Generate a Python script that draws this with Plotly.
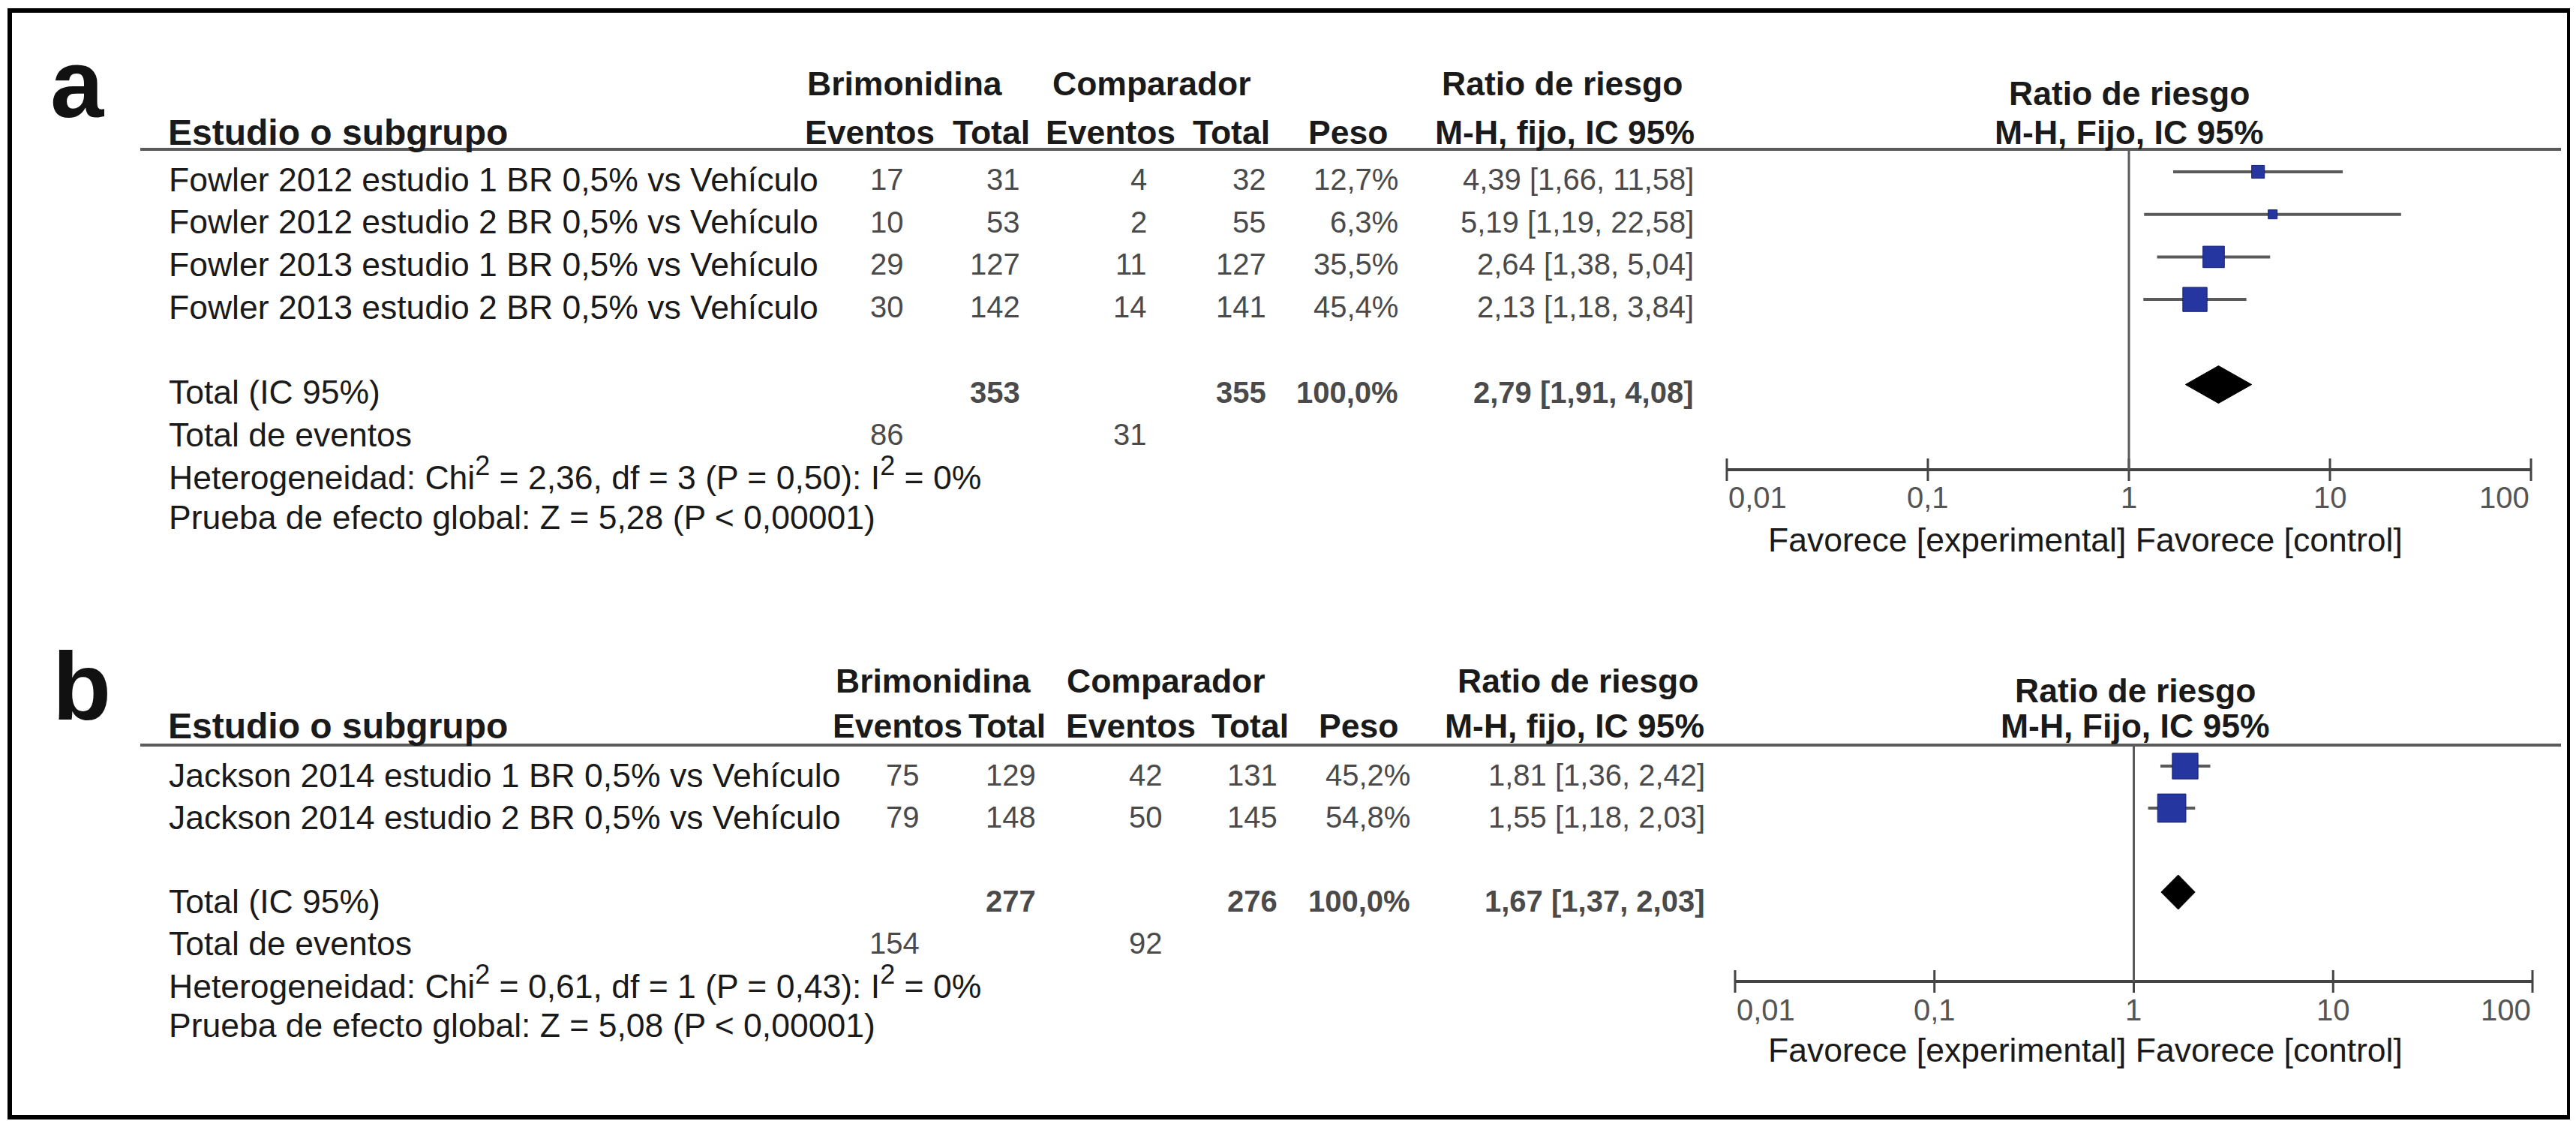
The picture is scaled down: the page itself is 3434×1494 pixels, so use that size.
import math
import plotly.graph_objects as go

W, H = 3434, 1494
OFF = 8  # page body margin used by the browser page
FONT = "Liberation Sans, Arial, Helvetica, sans-serif"

# ---------------- data: panel a ----------------
studies_a = [
    "Fowler 2012 estudio 1 BR 0,5% vs Vehículo",
    "Fowler 2012 estudio 2 BR 0,5% vs Vehículo",
    "Fowler 2013 estudio 1 BR 0,5% vs Vehículo",
    "Fowler 2013 estudio 2 BR 0,5% vs Vehículo",
]
brim_ev_a = [17, 10, 29, 30]
brim_tot_a = [31, 53, 127, 142]
comp_ev_a = [4, 2, 11, 14]
comp_tot_a = [32, 55, 127, 141]
weight_a = [12.7, 6.3, 35.5, 45.4]
rr_a = [4.39, 5.19, 2.64, 2.13]
lo_a = [1.66, 1.19, 1.38, 1.18]
hi_a = [11.58, 22.58, 5.04, 3.84]
total_a = dict(brim_tot=353, comp_tot=355, weight=100.0, rr=2.79, lo=1.91, hi=4.08,
               brim_ev=86, comp_ev=31, chi2=2.36, df=3, p=0.50, i2=0, z=5.28)

# ---------------- data: panel b ----------------
studies_b = [
    "Jackson 2014 estudio 1 BR 0,5% vs Vehículo",
    "Jackson 2014 estudio 2 BR 0,5% vs Vehículo",
]
brim_ev_b = [75, 79]
brim_tot_b = [129, 148]
comp_ev_b = [42, 50]
comp_tot_b = [131, 145]
weight_b = [45.2, 54.8]
rr_b = [1.81, 1.55]
lo_b = [1.36, 1.18]
hi_b = [2.42, 2.03]
total_b = dict(brim_tot=277, comp_tot=276, weight=100.0, rr=1.67, lo=1.37, hi=2.03,
               brim_ev=154, comp_ev=92, chi2=0.61, df=1, p=0.43, i2=0, z=5.08)

tick_vals = [0.01, 0.1, 1, 10, 100]
tick_text = ["0,01", "0,1", "1", "10", "100"]

# ---------------- layout (pixel) settings ----------------
lay_a = dict(letter="a", letter_xy=(65, 112), hdr1_y=112, fhdr1_y=125, hdr2_y=177, line_y=199,
             row0=229, step=56.7, text_dy=10, axis_y=626, xlo=2302, xhi=3374, fav_x=2780,
             fav_y=720, tl_y=663,
             cols=dict(be=1207, bt=1362, ce=1531, ct=1690, w=1866, rr=2260),
             hdr=dict(brim=1206, comp=1535, rr=2082, be=1159, bt=1321, ce=1480, ct=1641,
                      w=1797, mh=2086, forest=2838),
             msize=4.8, dia_h=25)
lay_b = dict(letter="b", letter_xy=(68, 914), hdr1_y=907, fhdr1_y=920, hdr2_y=967, line_y=993,
             row0=1021, step=56.0, text_dy=12, axis_y=1308, xlo=2313, xhi=3376, fav_x=2780,
             fav_y=1399, tl_y=1346,
             cols=dict(be=1228, bt=1383, ce=1552, ct=1705, w=1882, rr=2275),
             hdr=dict(brim=1244, comp=1554, rr=2103, be=1196, bt=1342, ce=1507, ct=1666,
                      w=1811, mh=2099, forest=2846),
             msize=5.1, dia_h=23)

TEXT_C = "#1a1a1a"
NUM_C = "#4a4a4a"
LINE_C = "#5a5a5a"
AXIS_C = "#444444"
BLUE = "#2636a0"
FS = 44.5

ann = []
shapes = []


def px(x):
    return (x - OFF) / W


def py(y):
    return 1 - (y - OFF) / H


def fmt(v, d=2):
    return f"{v:.{d}f}".replace(".", ",")


def sup(s):
    return f'<sup><span style="font-size:36px">{s}</span></sup>'


def text(x, y, s, xanchor="left", size=FS, color=TEXT_C, bold=False):
    if bold:
        s = f"<b>{s}</b>"
    ann.append(dict(x=px(x), y=py(y), xref="paper", yref="paper", text=s,
                    showarrow=False, xanchor=xanchor, yanchor="middle",
                    font=dict(size=size, color=color, family=FONT)))


fig = go.Figure()


def panel(idx, L, studies, be, bt, ce, ct, wt, rr, lo, hi, tot):
    xa = "x" if idx == 1 else f"x{idx}"
    ya = "y" if idx == 1 else f"y{idx}"
    n = len(studies)
    c = L["cols"]
    h = L["hdr"]

    def ty(i):
        return L["row0"] + L["step"] * i + L["text_dy"]

    # panel letter
    ann.append(dict(x=px(L["letter_xy"][0]), y=py(L["letter_xy"][1]), xref="paper", yref="paper",
                    text=f"<b>{L['letter']}</b>", showarrow=False, xanchor="left", yanchor="middle",
                    font=dict(size=128, color="#111111", family=FONT)))
    # headers
    text(h["brim"], L["hdr1_y"], "Brimonidina", "center", bold=True)
    text(h["comp"], L["hdr1_y"], "Comparador", "center", bold=True)
    text(h["rr"], L["hdr1_y"], "Ratio de riesgo", "center", bold=True)
    text(h["forest"], L["fhdr1_y"], "Ratio de riesgo", "center", bold=True)
    text(222, L["hdr2_y"], "Estudio o subgrupo", "left", size=48, bold=True)
    text(h["be"], L["hdr2_y"], "Eventos", "center", bold=True)
    text(h["bt"], L["hdr2_y"], "Total", "center", bold=True)
    text(h["ce"], L["hdr2_y"], "Eventos", "center", bold=True)
    text(h["ct"], L["hdr2_y"], "Total", "center", bold=True)
    text(h["w"], L["hdr2_y"], "Peso", "center", bold=True)
    text(h["mh"], L["hdr2_y"], "M-H, fijo, IC 95%", "center", bold=True)
    text(h["forest"], L["hdr2_y"], "M-H, Fijo, IC 95%", "center", bold=True)
    shapes.append(dict(type="line", xref="paper", yref="paper", x0=px(187), x1=px(3414),
                       y0=py(L["line_y"]), y1=py(L["line_y"]), line=dict(color=LINE_C, width=4)))

    # study rows
    for i in range(n):
        y = ty(i)
        text(223, y, studies[i], "left")
        text(c["be"], y, str(be[i]), "right", 40, NUM_C)
        text(c["bt"], y, str(bt[i]), "right", 40, NUM_C)
        text(c["ce"], y, str(ce[i]), "right", 40, NUM_C)
        text(c["ct"], y, str(ct[i]), "right", 40, NUM_C)
        text(c["w"], y, fmt(wt[i], 1) + "%", "right", 40, NUM_C)
        text(c["rr"], y, f"{fmt(rr[i])} [{fmt(lo[i])}, {fmt(hi[i])}]", "right", 40, NUM_C)

    ti = n + 1
    text(223, ty(ti), "Total (IC 95%)", "left")
    text(c["bt"], ty(ti), str(tot["brim_tot"]), "right", 40, NUM_C, bold=True)
    text(c["ct"], ty(ti), str(tot["comp_tot"]), "right", 40, NUM_C, bold=True)
    text(c["w"], ty(ti), fmt(tot["weight"], 1) + "%", "right", 40, NUM_C, bold=True)
    text(c["rr"], ty(ti), f"{fmt(tot['rr'])} [{fmt(tot['lo'])}, {fmt(tot['hi'])}]", "right", 40,
         NUM_C, bold=True)
    text(223, ty(ti + 1), "Total de eventos", "left")
    text(c["be"], ty(ti + 1), str(tot["brim_ev"]), "right", 40, NUM_C)
    text(c["ce"], ty(ti + 1), str(tot["comp_ev"]), "right", 40, NUM_C)
    text(223, ty(ti + 2) - 5,
         f"Heterogeneidad: Chi{sup(2)} = {fmt(tot['chi2'])}, df = {tot['df']} "
         f"(P = {fmt(tot['p'])}): I{sup(2)} = {tot['i2']}%", "left")
    text(223, ty(ti + 3) - 3,
         f"Prueba de efecto global: Z = {fmt(tot['z'])} (P &lt; 0,00001)", "left")

    # ----- forest plot -----
    step = L["step"]
    dom_bot = L["axis_y"] + 17          # ticks reach 15 px below the axis line
    i_top = (L["line_y"] - L["row0"]) / step
    i_axis = (L["axis_y"] - L["row0"]) / step
    i_bot = (dom_bot - L["row0"]) / step
    tk = 15 / step
    dec = (L["xhi"] - L["xlo"]) / 4.0   # pixels per decade
    pad = 0.03                          # decades of padding so edge ticks are not clipped
    lmin, lmax = math.log10(tick_vals[0]), math.log10(tick_vals[-1])

    # axis line
    fig.add_trace(go.Scatter(x=[tick_vals[0], tick_vals[-1]], y=[i_axis, i_axis], mode="lines",
                             xaxis=xa, yaxis=ya, line=dict(color=AXIS_C, width=4),
                             hoverinfo="skip", showlegend=False))
    # tick marks crossing the axis line
    tx, tyv = [], []
    for t in tick_vals:
        tx += [t, t, None]
        tyv += [i_axis - tk, i_axis + tk, None]
    fig.add_trace(go.Scatter(x=tx, y=tyv, mode="lines", xaxis=xa, yaxis=ya,
                             line=dict(color=AXIS_C, width=3), hoverinfo="skip",
                             showlegend=False))
    # tick labels (placed on the log axis); end labels kept inside the axis extent
    for k, (t, s) in enumerate(zip(tick_vals, tick_text)):
        anchor = "left" if k == 0 else ("right" if k == len(tick_vals) - 1 else "center")
        ann.append(dict(x=math.log10(t), xref=xa, y=py(L["tl_y"]), yref="paper", text=s,
                        showarrow=False, xanchor=anchor, yanchor="middle",
                        font=dict(size=40, color="#555555", family=FONT)))
    # line of no effect
    fig.add_trace(go.Scatter(x=[1, 1], y=[i_top, i_axis], mode="lines", xaxis=xa, yaxis=ya,
                             line=dict(color=LINE_C, width=3), hoverinfo="skip", showlegend=False))
    # confidence intervals
    cx, cy = [], []
    for i in range(n):
        cx += [lo[i], hi[i], None]
        cy += [i, i, None]
    fig.add_trace(go.Scatter(x=cx, y=cy, mode="lines", xaxis=xa, yaxis=ya,
                             line=dict(color=LINE_C, width=4), hoverinfo="skip",
                             showlegend=False))
    # weighted squares
    fig.add_trace(go.Scatter(x=rr, y=list(range(n)), mode="markers", xaxis=xa, yaxis=ya,
                             marker=dict(symbol="square", color=BLUE, opacity=1,
                                         size=[L["msize"] * math.sqrt(w) for w in wt],
                                         line=dict(color="#18207a", width=1)),
                             hoverinfo="skip", showlegend=False))
    # pooled diamond
    dh = L["dia_h"] / step
    fig.add_trace(go.Scatter(x=[tot["lo"], tot["rr"], tot["hi"], tot["rr"], tot["lo"]],
                             y=[ti, ti - dh, ti, ti + dh, ti], mode="lines", fill="toself",
                             fillcolor="#000000", line=dict(color="#000000", width=1),
                             xaxis=xa, yaxis=ya, hoverinfo="skip", showlegend=False))

    xkey = "xaxis" if idx == 1 else f"xaxis{idx}"
    ykey = "yaxis" if idx == 1 else f"yaxis{idx}"
    fig.update_layout(**{
        xkey: dict(domain=[px(L["xlo"] - pad * dec), px(L["xhi"] + pad * dec)], type="log",
                   range=[lmin - pad, lmax + pad], anchor=ya, automargin=False,
                   showline=False, ticks="", showticklabels=False,
                   showgrid=False, zeroline=False, fixedrange=True),
        ykey: dict(domain=[py(dom_bot), py(L["line_y"])], range=[i_bot, i_top],
                   anchor=xa, visible=False, automargin=False, showgrid=False,
                   zeroline=False, fixedrange=True),
    })
    text(L["fav_x"], L["fav_y"], "Favorece [experimental] Favorece [control]", "center")


panel(1, lay_a, studies_a, brim_ev_a, brim_tot_a, comp_ev_a, comp_tot_a, weight_a, rr_a,
      lo_a, hi_a, total_a)
panel(2, lay_b, studies_b, brim_ev_b, brim_tot_b, comp_ev_b, comp_tot_b, weight_b, rr_b,
      lo_b, hi_b, total_b)

# outer frame
shapes.append(dict(type="rect", xref="paper", yref="paper", x0=px(13), x1=px(3425),
                   y0=py(1489), y1=py(14), line=dict(color="#000000", width=6)))

fig.update_layout(width=W, height=H, margin=dict(l=0, r=0, t=0, b=0, pad=0, autoexpand=False),
                  paper_bgcolor="white", plot_bgcolor="white", showlegend=False,
                  annotations=ann, shapes=shapes, font=dict(family=FONT))

fig.write_html("out.html")
